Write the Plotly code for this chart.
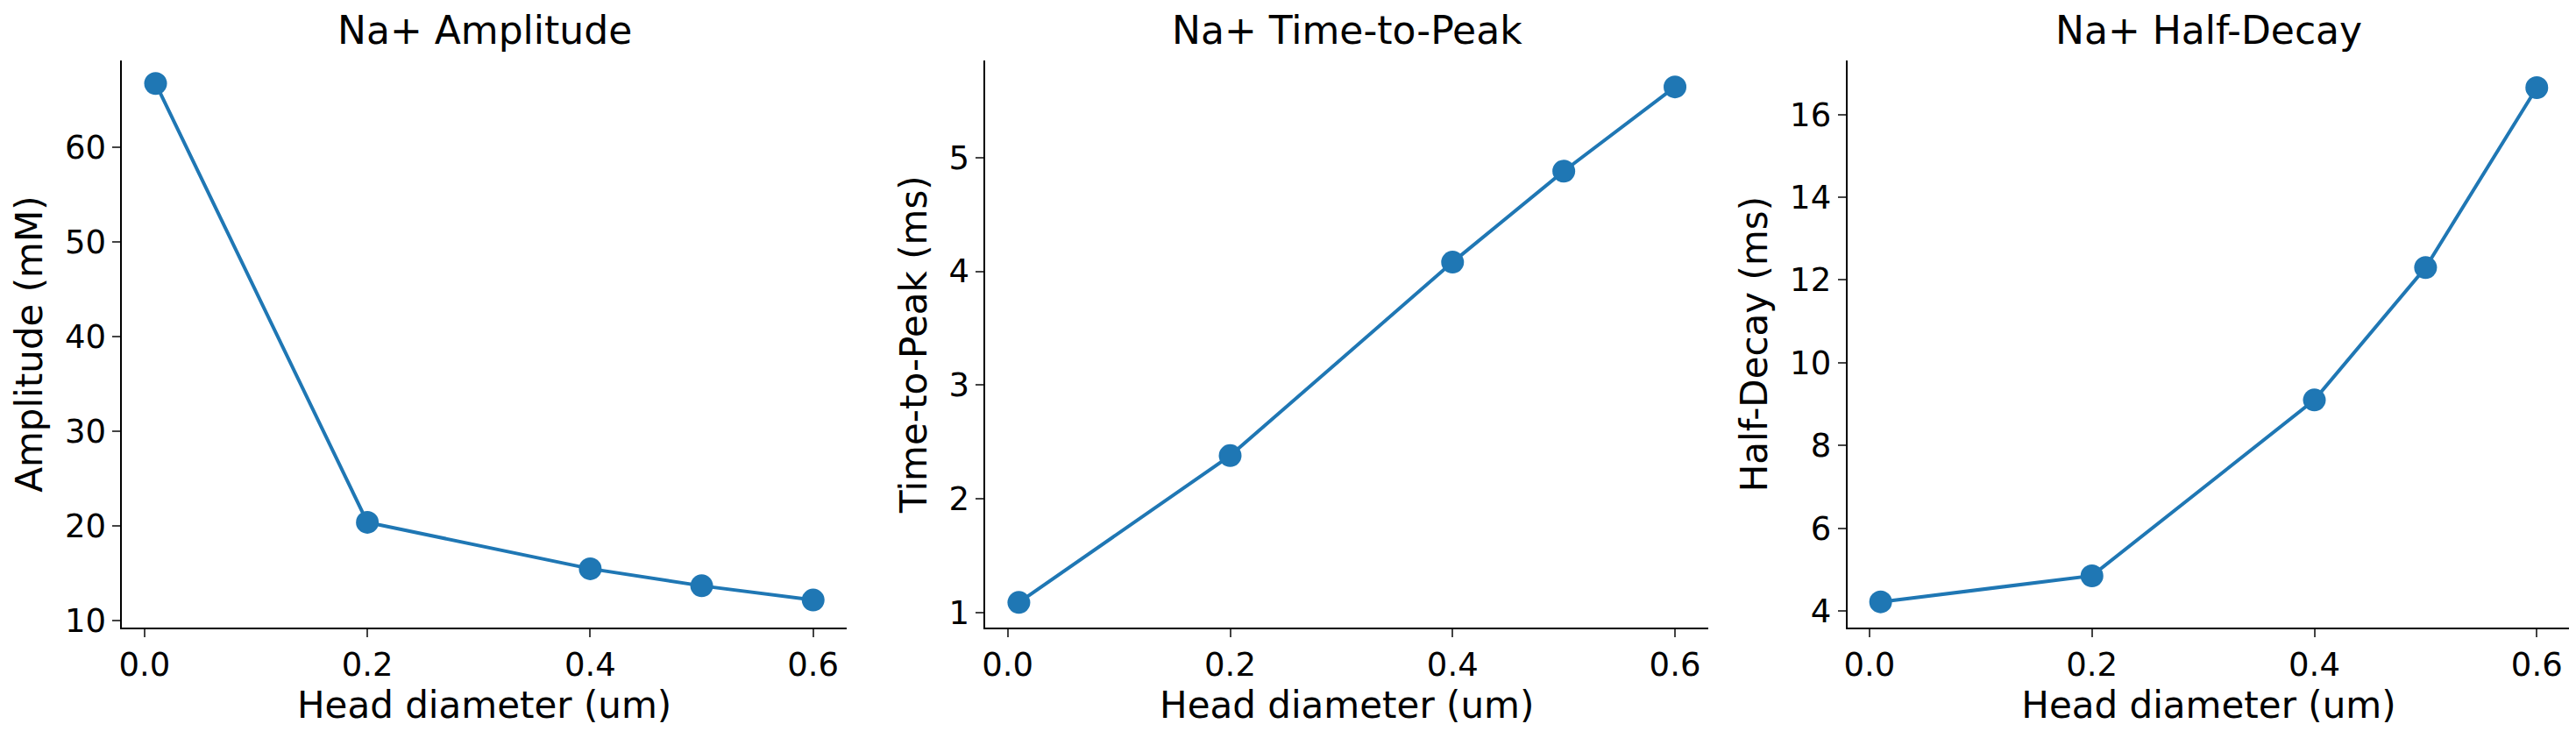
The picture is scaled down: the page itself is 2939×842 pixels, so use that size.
import plotly.graph_objects as go
from plotly.subplots import make_subplots

head_diameter = [0.01, 0.2, 0.4, 0.5, 0.6]
amplitude = [66.7, 20.4, 15.5, 13.7, 12.2]
time_to_peak = [1.09, 2.38, 4.08, 4.88, 5.62]
half_decay = [4.22, 4.85, 9.1, 12.3, 16.65]
titles = ["Na+ Amplitude", "Na+ Time-to-Peak", "Na+ Half-Decay"]
ylabels = ["Amplitude (mM)", "Time-to-Peak (ms)", "Half-Decay (ms)"]
yranges = [[9.3, 69.1], [0.87, 5.85], [3.6, 17.3]]
ydticks = [10, 1, 2]

color = "#1f77b4"
fig = go.Figure()
xdoms = [[0.0434, 0.325], [0.379, 0.660], [0.714, 0.995]]
ydom = [0.145, 0.926]
series = [amplitude, time_to_peak, half_decay]
font = dict(family="DejaVu Sans", size=37, color="black")
for i in range(3):
    s = "" if i == 0 else str(i + 1)
    fig.add_trace(go.Scatter(x=head_diameter, y=series[i], mode="lines+markers",
                             line=dict(color=color, width=4),
                             marker=dict(color=color, size=26),
                             xaxis="x" + s, yaxis="y" + s, showlegend=False))
    fig.layout["xaxis" + s] = dict(domain=xdoms[i], anchor="y" + s, range=[-0.02, 0.63],
                                   tickvals=[0, 0.2, 0.4, 0.6], ticktext=["0.0", "0.2", "0.4", "0.6"],
                                   showline=True, linecolor="black", linewidth=2, ticks="outside",
                                   ticklen=9, tickwidth=2, showgrid=False, zeroline=False,
                                   title=dict(text="Head diameter (um)", font=dict(size=42), standoff=10),
                                   tickfont=font)
    fig.layout["yaxis" + s] = dict(domain=ydom, anchor="x" + s, range=yranges[i], dtick=ydticks[i],
                                   showline=True, linecolor="black", linewidth=2, ticks="outside",
                                   ticklen=9, tickwidth=2, showgrid=False, zeroline=False,
                                   title=dict(text=ylabels[i], font=dict(size=42), standoff=12),
                                   tickfont=font)
    fig.add_annotation(text=titles[i], x=(xdoms[i][0] + xdoms[i][1]) / 2, y=0.935,
                       xref="paper", yref="paper", xanchor="center", yanchor="bottom",
                       showarrow=False, font=dict(family="DejaVu Sans", size=44, color="black"))

fig.update_layout(width=2939, height=842, margin=dict(l=0, r=0, t=0, b=0),
                  plot_bgcolor="white", paper_bgcolor="white", font=font)
fig.write_html("out.html")
